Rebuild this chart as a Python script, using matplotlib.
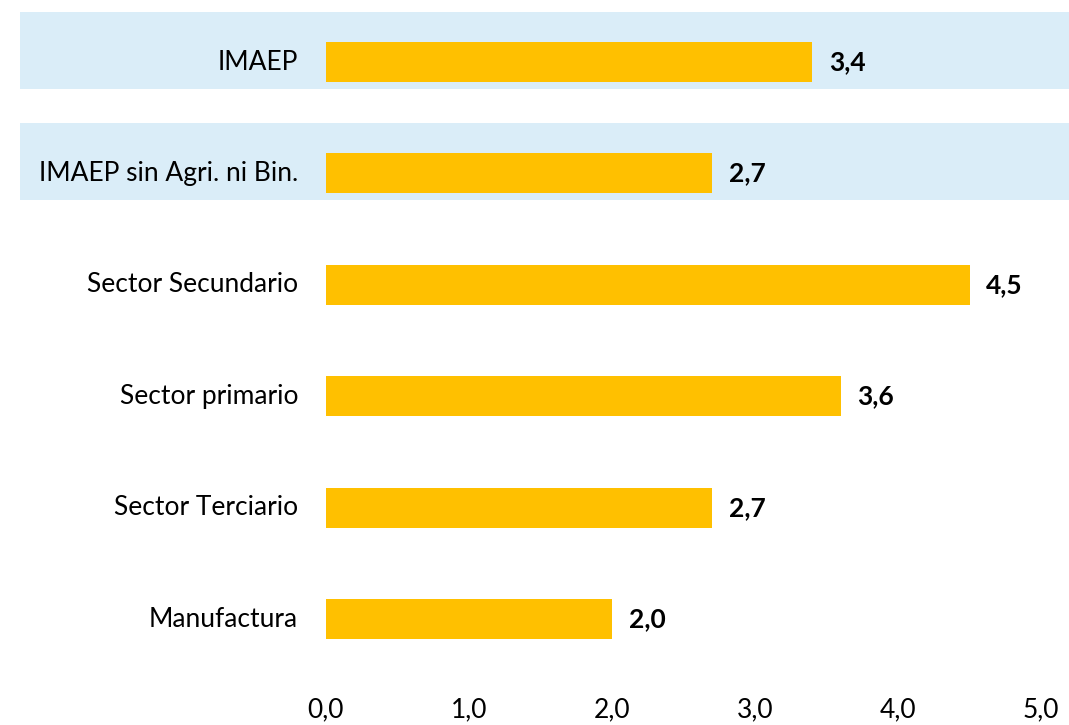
import matplotlib
matplotlib.use('Agg')
import matplotlib.pyplot as plt
import matplotlib.transforms as mtransforms
from matplotlib.patches import Rectangle

plt.rcParams['font.family'] = ['Lato', 'DejaVu Sans']

# Datos
categorias = ['IMAEP', 'IMAEP sin Agri. ni Bin.', 'Sector Secundario',
              'Sector primario', 'Sector Terciario', 'Manufactura']
valores = [3.4, 2.7, 4.5, 3.6, 2.7, 2.0]
ticks_x = [0, 1, 2, 3, 4, 5]
filas_resaltadas = [0, 1]

color_barra = '#FFC000'
color_banda = '#DAEDF8'

fig = plt.figure(figsize=(10.69, 7.25), dpi=100)
ax = fig.add_axes([326 / 1069, 1 - 690 / 725, (1041 - 326) / 1069, 690 / 725])

y = list(range(len(categorias)))

# Bandas azules detrás de las filas resaltadas
trans = mtransforms.blended_transform_factory(fig.transFigure, ax.transData)
for i in filas_resaltadas:
    ax.add_patch(Rectangle((20 / 1069, i - 0.45), 1 - 20 / 1069, 0.69,
                           transform=trans, facecolor=color_banda,
                           edgecolor='none', clip_on=False, zorder=0))

ax.barh(y, valores, height=0.36, color=color_barra, zorder=2)

# Etiquetas de valor
for yi, v in zip(y, valores):
    ax.annotate(f"{v:.1f}".replace('.', ','), (v, yi), xytext=(12, 0),
                textcoords='offset points', ha='left', va='center',
                fontsize=19, fontweight='bold', color='black')

# Etiquetas de categoría
for yi, c in zip(y, categorias):
    ax.annotate(c, (0, yi), xytext=(-20, 0), textcoords='offset points',
                ha='right', va='center', fontsize=19, color='black',
                annotation_clip=False)

ax.set_xlim(0, 5)
ax.set_ylim(5.637, -0.557)
ax.set_xticks(ticks_x)
ax.set_xticklabels([f"{t:.1f}".replace('.', ',') for t in ticks_x], fontsize=19)
ax.set_yticks([])
ax.tick_params(axis='x', length=0, pad=5)
for s in ax.spines.values():
    s.set_visible(False)
ax.patch.set_alpha(0)

fig.savefig('out.png', dpi=100)
